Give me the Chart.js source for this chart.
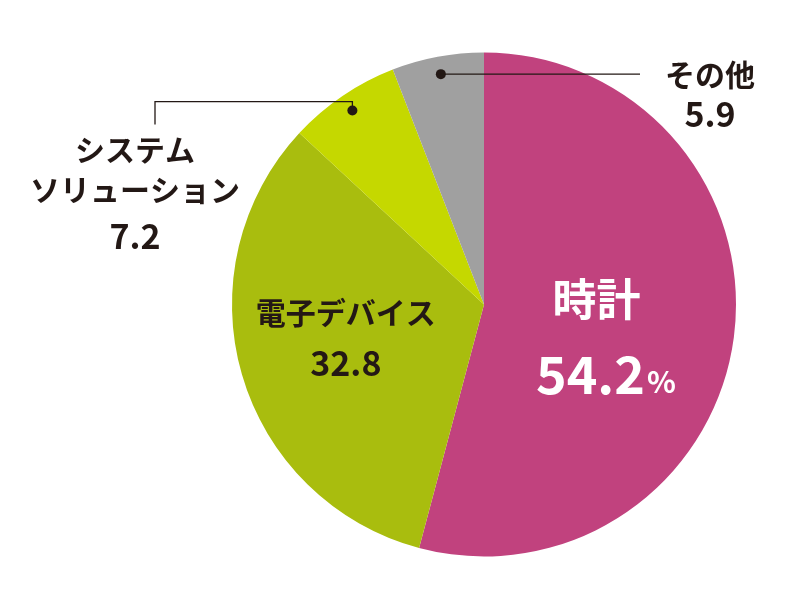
<!DOCTYPE html>
<html><head><meta charset="utf-8">
<script src="https://cdn.jsdelivr.net/npm/chart.js@4/dist/chart.umd.min.js"></script>
<style>body{margin:0;background:#fff}#wrap{width:800px;height:592px}</style>
</head><body><div id="wrap"><canvas id="c"></canvas></div>
<script>
var labels = ['時計', '電子デバイス', 'システムソリューション', 'その他'];
var values = [54.2, 32.8, 7.2, 5.9];
var colors = ['#C1427E', '#A9BD0E', '#C5D800', '#A0A0A0'];

var FONT = '"Noto Sans CJK JP", "Noto Sans", sans-serif';

// labels + leader lines drawn after the pie
var labelPlugin = {
  id: 'labels',
  afterDatasetsDraw: function (chart) {
    var ctx = chart.ctx;
    var arcs = chart.getDatasetMeta(0).data;
    function pt(a, f) {
      var ang = (a.startAngle + a.endAngle) / 2;
      return { x: a.x + Math.cos(ang) * a.outerRadius * f, y: a.y + Math.sin(ang) * a.outerRadius * f };
    }
    function txt(s, x, y, size, col, w) {
      ctx.font = (w || 'bold') + ' ' + size + 'px ' + FONT;
      ctx.fillStyle = col;
      ctx.fillText(s, x, y);
    }
    ctx.save();
    ctx.textAlign = 'center';
    ctx.textBaseline = 'middle';

    // 時計
    var p0 = pt(arcs[0], 0.45);
    txt('時計', p0.x, p0.y - 20, 44, '#fff');
    ctx.font = 'bold 52px ' + FONT;
    var w = ctx.measureText('54.2').width;
    ctx.textAlign = 'right';
    txt('54.2', p0.x + w / 2 - 6, p0.y + 55, 52, '#fff');
    ctx.textAlign = 'left';
    txt('%', p0.x + w / 2 - 4, p0.y + 62, 30, '#fff');
    ctx.textAlign = 'center';

    // 電子デバイス
    var p1 = pt(arcs[1], 0.55);
    txt('電子デバイス', p1.x - 5, p1.y - 30, 30, '#231815');
    txt('32.8', p1.x - 5, p1.y + 20, 34, '#231815');

    // leader lines
    ctx.strokeStyle = '#231815';
    ctx.fillStyle = '#231815';
    ctx.lineWidth = 1.3;
    var d2 = pt(arcs[2], 0.93), d3 = pt(arcs[3], 0.93);
    [d2, d3].forEach(function (d) {
      ctx.beginPath(); ctx.arc(d.x, d.y, 5, 0, Math.PI * 2); ctx.fill();
    });
    ctx.beginPath();
    ctx.moveTo(d3.x, d3.y); ctx.lineTo(640, d3.y);
    ctx.moveTo(d2.x, d2.y); ctx.lineTo(d2.x, d2.y - 9); ctx.lineTo(155, d2.y - 9); ctx.lineTo(155, d2.y + 14);
    ctx.stroke();

    txt('その他', 710, d3.y, 30, '#231815');
    txt('5.9', 710, d3.y + 40, 34, '#231815');
    txt('システム', 135, 150, 30, '#231815');
    txt('ソリューション', 135, 190, 30, '#231815');
    txt('7.2', 135, 236, 34, '#231815');
    ctx.restore();
  }
};

new Chart(document.getElementById('c'), {
  type: 'pie',
  data: { labels: labels, datasets: [{ data: values, backgroundColor: colors, borderWidth: 0 }] },
  options: {
    responsive: true,
    maintainAspectRatio: false,
    animation: false,
    layout: { padding: { left: 232, right: 64, top: 52, bottom: 35 } },
    plugins: { legend: { display: false }, tooltip: { enabled: false } }
  },
  plugins: [labelPlugin]
});
</script></body></html>
